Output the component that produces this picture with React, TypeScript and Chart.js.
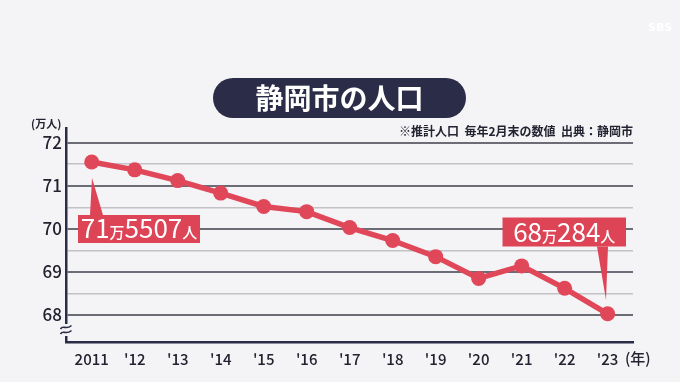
import React, { useEffect, useRef } from "react";
import { Chart, registerables } from "chart.js";

Chart.register(...registerables);

const years = ["2011", "'12", "'13", "'14", "'15", "'16", "'17", "'18", "'19", "'20", "'21", "'22", "'23"];
const population = [71.5507, 71.37, 71.12, 70.83, 70.52, 70.4, 70.03, 69.73, 69.355, 68.85, 69.14, 68.62, 68.0284];
const yTicks = [68, 68.5, 69, 69.5, 70, 70.5, 71, 71.5, 72];
const titleText = "静岡市の人口";
const noteText = "※推計人口  毎年2月末の数値  出典：静岡市";
const yUnit = "(万人)";
const xUnit = "(年)";
const firstLabel = ["71", "万", "5507", "人"];
const lastLabel = ["68", "万", "284", "人"];

const BG = "#f4f4f6";
const NAVY = "#2b2c47";
const RED = "#e0485a";
const JP = '"Noto Sans CJK JP", "Noto Sans", sans-serif';

function drawCallout(ctx: CanvasRenderingContext2D, parts: string[], box: number[], tri: number[][]) {
  const [bx, by, bw, bh] = box;
  ctx.save();
  ctx.fillStyle = "#dd4557";
  ctx.beginPath();
  ctx.moveTo(tri[0][0], tri[0][1]);
  ctx.lineTo(tri[1][0], tri[1][1]);
  ctx.lineTo(tri[2][0], tri[2][1]);
  ctx.closePath();
  ctx.fill();
  ctx.fillRect(bx, by, bw, bh);
  const big = `400 26px ${JP}`;
  const small = `500 15px ${JP}`;
  let total = 0;
  const widths = parts.map((p, i) => {
    ctx.font = i % 2 === 0 ? big : small;
    const w = ctx.measureText(p).width;
    total += w;
    return w;
  });
  let x = bx + (bw - total) / 2;
  ctx.fillStyle = "#ffffff";
  ctx.textBaseline = "alphabetic";
  ctx.textAlign = "left";
  const base = by + bh - 5;
  parts.forEach((p, i) => {
    ctx.font = i % 2 === 0 ? big : small;
    ctx.fillText(p, x, base);
    x += widths[i];
  });
  ctx.restore();
}

const decorPlugin = {
  id: "decor",
  beforeDraw(chart: any) {
    const ctx = chart.ctx;
    ctx.save();
    ctx.fillStyle = BG;
    ctx.fillRect(0, 0, chart.width, chart.height);
    ctx.restore();
  },
  afterDatasetsDraw(chart: any) {
    const ctx = chart.ctx;
    drawCallout(ctx, firstLabel, [78, 215, 122, 28], [[90, 215], [103, 215], [92, 178]]);
    drawCallout(ctx, lastLabel, [502.5, 217.5, 123.5, 29], [[597, 246.5], [608, 246.5], [606, 300]]);
  },
  afterDraw(chart: any) {
    const ctx = chart.ctx;
    ctx.save();
    // title pill
    ctx.fillStyle = NAVY;
    ctx.beginPath();
    ctx.roundRect(213, 78, 253, 40, 20);
    ctx.fill();
    ctx.fillStyle = "#ffffff";
    ctx.font = `bold 28px ${JP}`;
    ctx.textAlign = "center";
    ctx.textBaseline = "middle";
    ctx.fillText(titleText, 339.5, 98);
    // note
    ctx.fillStyle = "#222230";
    ctx.font = `bold 12px ${JP}`;
    ctx.textAlign = "right";
    ctx.fillText(noteText, 633, 131);
    // y unit
    ctx.font = `bold 11px ${JP}`;
    ctx.textAlign = "left";
    ctx.fillText(yUnit, 31, 124);
    // x unit
    ctx.font = `500 15px ${JP}`;
    ctx.fillText(xUnit, 625, 358);
    // axis break
    ctx.fillStyle = BG;
    ctx.fillRect(62, 324, 8, 12);
    ctx.strokeStyle = NAVY;
    ctx.lineWidth = 1.6;
    for (const dy of [-2.5, 2.5]) {
      ctx.beginPath();
      const cy = 330 + dy;
      ctx.moveTo(60.5, cy + 1.5);
      ctx.bezierCurveTo(63, cy - 3, 66, cy + 3, 71.5, cy - 2);
      ctx.stroke();
    }
    // watermark
    ctx.fillStyle = "#ffffff";
    ctx.font = `bold 11px "DejaVu Sans", sans-serif`;
    ctx.textAlign = "left";
    ctx.fillText("SBS", 648, 28);
    ctx.restore();
  },
};

export default function App() {
  const ref = useRef<HTMLCanvasElement>(null);
  useEffect(() => {
    document.body.style.margin = "0";
    document.body.style.background = BG;
    const chart = new Chart(ref.current!, {
      type: "line",
      data: {
        datasets: [
          {
            data: population.map((v, i) => ({ x: i, y: v })),
            borderColor: RED,
            backgroundColor: RED,
            borderWidth: 5.5,
            pointRadius: 7.5,
            pointBackgroundColor: RED,
            pointBorderWidth: 0,
            tension: 0,
            clip: false as any,
          },
        ],
      },
      options: {
        responsive: false,
        animation: false,
        events: [],
        layout: { padding: { left: 0, top: 128, right: 47, bottom: 0 } },
        plugins: { legend: { display: false }, tooltip: { enabled: false } },
        scales: {
          x: {
            type: "linear",
            min: -0.598,
            max: 12.59,
            afterBuildTicks: (scale: any) => {
              scale.ticks = years.map((_, i) => ({ value: i }));
            },
            afterFit: (scale: any) => {
              scale.height = 40;
            },
            grid: { display: false, drawTicks: false },
            border: { display: true, color: NAVY, width: 2.5 },
            ticks: {
              autoSkip: false,
              maxRotation: 0,
              padding: 8,
              color: "#222230",
              font: { family: JP, size: 15, weight: "500" as any },
              callback: (v: any) => years[Number(v)] ?? "",
            },
          },
          y: {
            type: "linear",
            min: 67.374,
            max: 72.341,
            afterBuildTicks: (scale: any) => {
              scale.ticks = yTicks.map((v) => ({ value: v }));
            },
            afterFit: (scale: any) => {
              scale.width = 66;
            },
            grid: {
              drawTicks: false,
              color: (c: any) => (c.tick && Number.isInteger(c.tick.value) ? "#6c6c76" : "#c2c2c7"),
              lineWidth: (c: any) => (c.tick && Number.isInteger(c.tick.value) ? 2 : 1.5),
            },
            border: { display: true, color: NAVY, width: 2.5 },
            ticks: {
              padding: 4,
              color: "#222230",
              font: { family: JP, size: 17, weight: "500" as any },
              callback: (v: any) => (Number.isInteger(Number(v)) ? String(v) : ""),
            },
          },
        },
      },
      plugins: [decorPlugin],
    });
    return () => chart.destroy();
  }, []);
  return (
    <div style={{ width: 680, height: 382, background: BG }}>
      <canvas ref={ref} width={680} height={382} style={{ display: "block" }} />
    </div>
  );
}
